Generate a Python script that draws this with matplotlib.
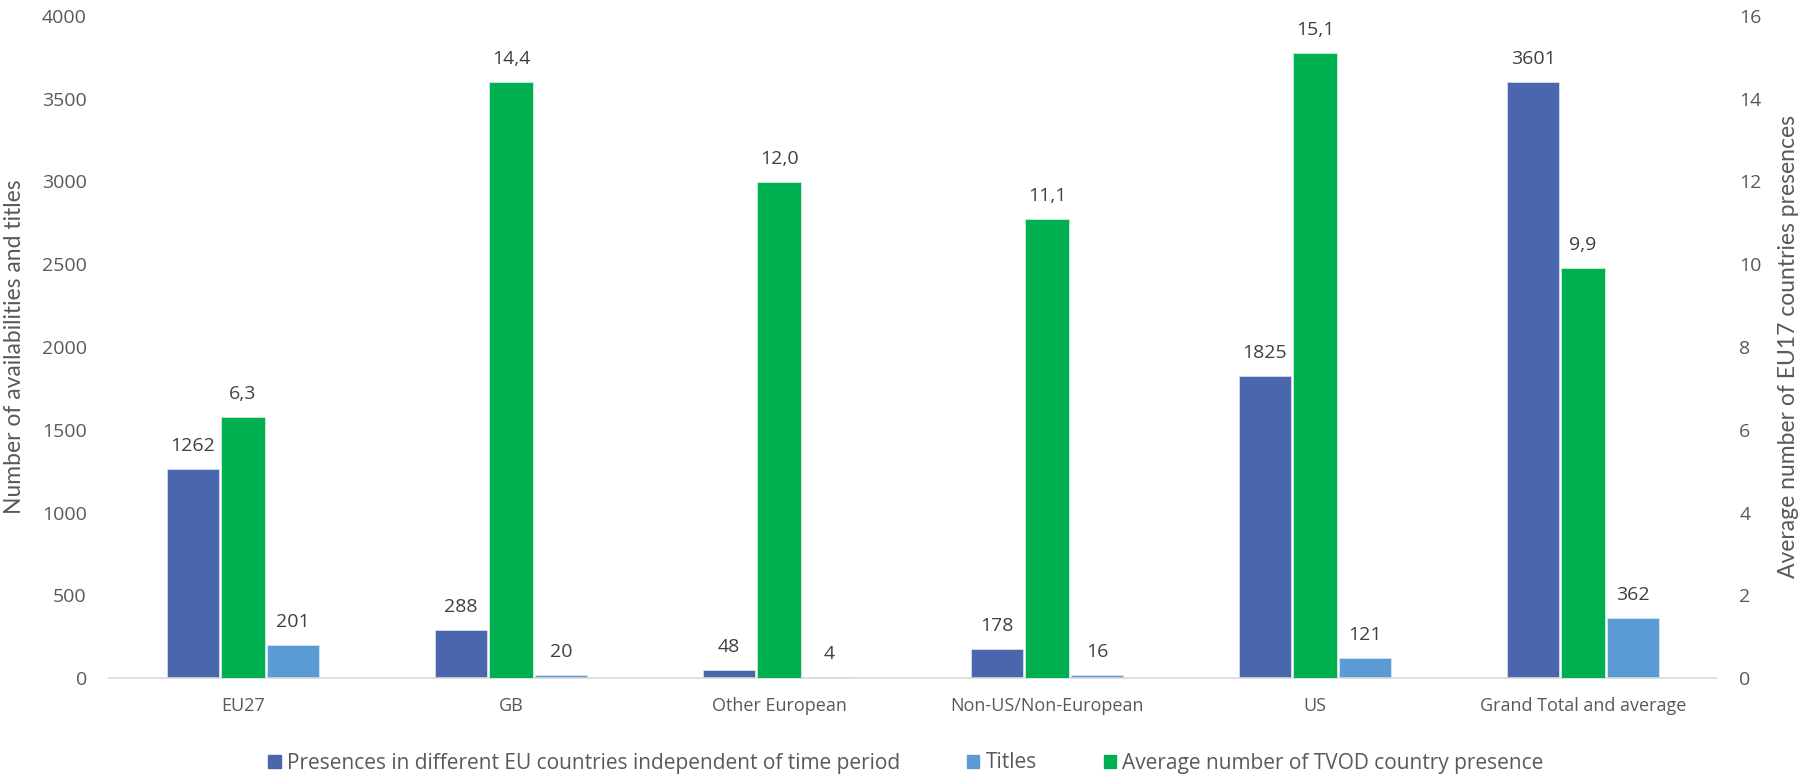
import matplotlib
matplotlib.use("Agg")
import matplotlib.pyplot as plt
import numpy as np
from matplotlib.patches import Patch

categories = ["EU27", "GB", "Other European", "Non-US/Non-European", "US", "Grand Total and average"]
presences = [1262, 288, 48, 178, 1825, 3601]
titles = [201, 20, 4, 16, 121, 362]
avg_presence = [6.3, 14.4, 12.0, 11.1, 15.1, 9.9]

c_pres = "#4A66AC"
c_titles = "#5B9BD5"
c_avg = "#00B050"
txt = "#595959"

tick_font = ["Open Sans", "DejaVu Sans"]
title_font = ["Lato", "DejaVu Sans"]

W, H = 1805, 774
fig = plt.figure(figsize=(W/100, H/100), dpi=100)
L, R, T, B = 109, 1717, 16, 678
ax = fig.add_axes([L/W, 1-B/H, (R-L)/W, (B-T)/H])
ax2 = ax.twinx()

x = np.arange(len(categories))
off = 50/268
w_side = 52/268
w_mid = 44/268

b1 = ax.bar(x - off, presences, w_side, color=c_pres, edgecolor="#D6DCEE", linewidth=0.6)
b3 = ax.bar(x + off, titles, w_side, color=c_titles, edgecolor="#D6E6F5", linewidth=0.6)
b2 = ax2.bar(x, avg_presence, w_mid, color=c_avg, edgecolor="#CCEFDC", linewidth=0.6)

ax.set_xlim(-0.5, len(categories) - 0.5)
ax.set_ylim(0, 4000)
ax2.set_ylim(0, 16)
ax.set_yticks(np.arange(0, 4001, 500))
ax2.set_yticks(np.arange(0, 17, 2))
ax.set_xticks(x)
ax.set_xticklabels(categories)

for a in (ax, ax2):
    for s in ("top", "left", "right", "bottom"):
        a.spines[s].set_visible(False)
    a.tick_params(length=0, colors=txt, labelsize=14)
    for lab in a.get_yticklabels() + a.get_xticklabels():
        lab.set_family(tick_font)
ax.tick_params(axis="x", labelsize=13)
ax.spines["bottom"].set_visible(True)
ax.spines["bottom"].set_color("#D9D9D9")
ax.spines["bottom"].set_linewidth(1.2)
ax.tick_params(axis="x", pad=14)
ax.tick_params(axis="y", pad=16)
ax2.tick_params(axis="y", pad=16)

ax.set_ylabel("Number of availabilities and titles", fontsize=16.5, color=txt, family=title_font)
ax2.set_ylabel("Average number of EU17 countries presences", fontsize=16.5, color=txt, family=title_font,
               rotation=90)
ax.yaxis.set_label_coords((15 - L)/(R - L), 0.5)
ax2.yaxis.set_label_coords((1788 - L)/(R - L), 0.5)
ax.yaxis.label.set_va("center")
ax2.yaxis.label.set_va("center")

lab_color = "#404040"
for bars, vals in ((b1, presences), (b3, titles)):
    for r, v in zip(bars, vals):
        ax.annotate(f"{v:d}", (r.get_x() + r.get_width()/2, r.get_height()),
                    xytext=(0, 10), textcoords="offset points", ha="center", va="bottom",
                    fontsize=14, color=lab_color, family=tick_font)
for r, v in zip(b2, avg_presence):
    ax2.annotate(f"{v:.1f}".replace(".", ","), (r.get_x() + r.get_width()/2, r.get_height()),
                 xytext=(0, 10), textcoords="offset points", ha="center", va="bottom",
                 fontsize=14, color=lab_color, family=tick_font)

handles = [Patch(color=c_pres), Patch(color=c_titles), Patch(color=c_avg)]
labels = ["Presences in different EU countries independent of time period", "Titles",
          "Average number of TVOD country presence"]
fig.legend(handles, labels, loc="center", bbox_to_anchor=(906/W, 1-763/H), ncol=3, frameon=False,
           prop={"family": tick_font, "size": 15}, labelcolor=txt, handlelength=0.6, handleheight=0.6,
           handletextpad=0.3, columnspacing=3.2)

fig.savefig("out.png", dpi=100)
